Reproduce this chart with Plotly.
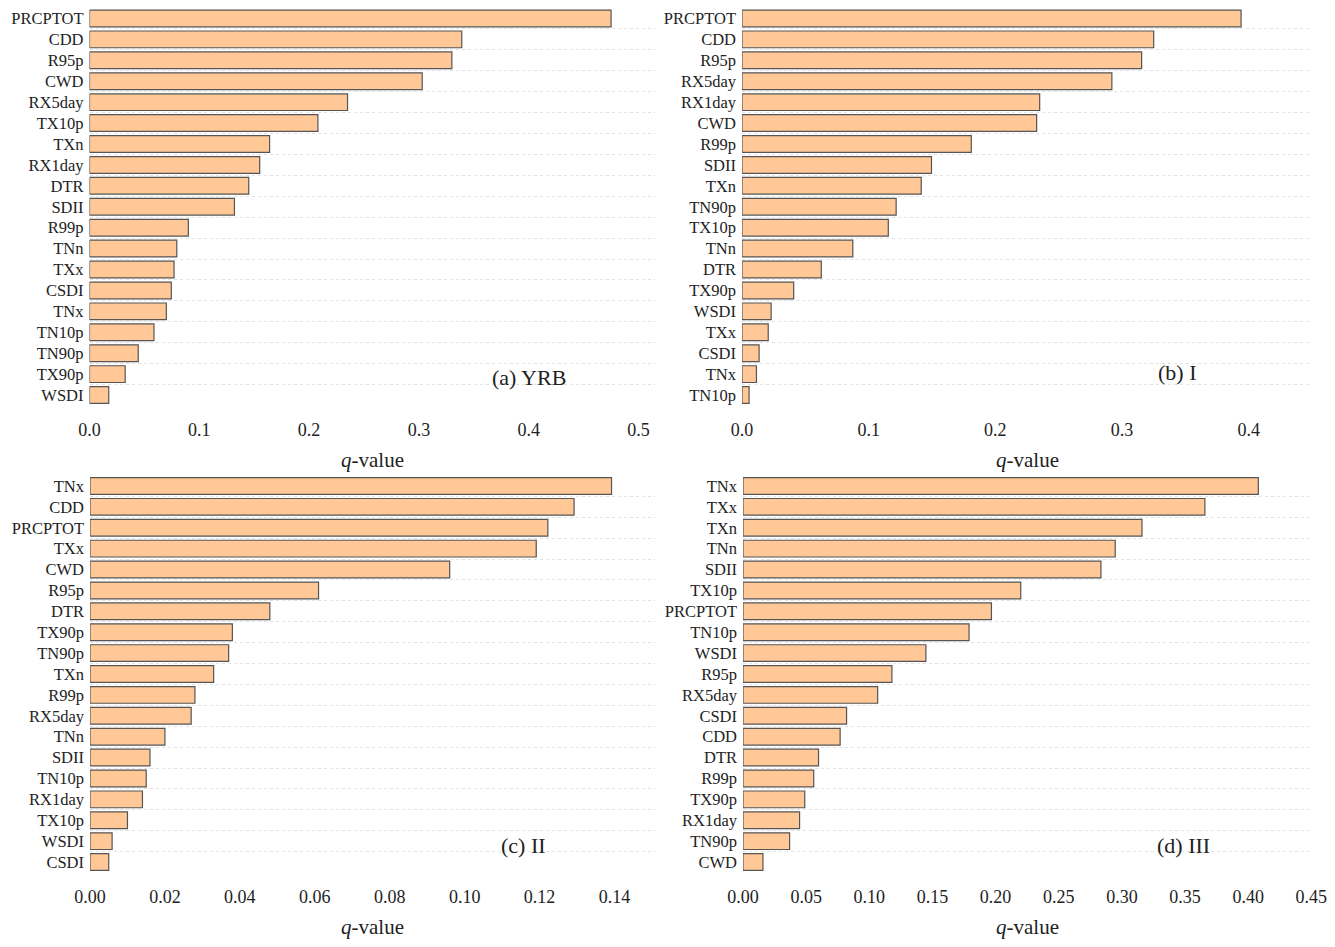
import plotly.graph_objects as go

# q-values (top bar first)
yrb_labels = ["PRCPTOT", "CDD", "R95p", "CWD", "RX5day", "TX10p", "TXn", "RX1day", "DTR", "SDII",
              "R99p", "TNn", "TXx", "CSDI", "TNx", "TN10p", "TN90p", "TX90p", "WSDI"]
yrb_values = [0.475, 0.339, 0.330, 0.303, 0.235, 0.208, 0.164, 0.155, 0.145, 0.132,
              0.090, 0.0795, 0.077, 0.0745, 0.070, 0.0587, 0.0444, 0.0325, 0.0175]

r1_labels = ["PRCPTOT", "CDD", "R95p", "RX5day", "RX1day", "CWD", "R99p", "SDII", "TXn", "TN90p",
             "TX10p", "TNn", "DTR", "TX90p", "WSDI", "TXx", "CSDI", "TNx", "TN10p"]
r1_values = [0.394, 0.325, 0.3155, 0.292, 0.235, 0.2326, 0.181, 0.1496, 0.1415, 0.1217,
             0.1155, 0.0875, 0.0626, 0.0408, 0.023, 0.0207, 0.0135, 0.0114, 0.0056]

r2_labels = ["TNx", "CDD", "PRCPTOT", "TXx", "CWD", "R95p", "DTR", "TX90p", "TN90p", "TXn",
             "R99p", "RX5day", "TNn", "SDII", "TN10p", "RX1day", "TX10p", "WSDI", "CSDI"]
r2_values = [0.1392, 0.1292, 0.1222, 0.1191, 0.096, 0.061, 0.048, 0.038, 0.037, 0.033,
             0.028, 0.027, 0.020, 0.016, 0.015, 0.014, 0.010, 0.0059, 0.005]

r3_labels = ["TNx", "TXx", "TXn", "TNn", "SDII", "TX10p", "PRCPTOT", "TN10p", "WSDI", "R95p",
             "RX5day", "CSDI", "CDD", "DTR", "R99p", "TX90p", "RX1day", "TN90p", "CWD"]
r3_values = [0.408, 0.3657, 0.3159, 0.2947, 0.2834, 0.2199, 0.1967, 0.179, 0.1448, 0.1179,
             0.1066, 0.082, 0.0769, 0.0598, 0.056, 0.0489, 0.0448, 0.0369, 0.0158]

panels = [
    (yrb_labels, yrb_values, "(a) YRB", [0, 0.515], [0, 0.1, 0.2, 0.3, 0.4, 0.5], ".1f"),
    (r1_labels, r1_values, "(b) I", [0, 0.45], [0, 0.1, 0.2, 0.3, 0.4], ".1f"),
    (r2_labels, r2_values, "(c) II", [0, 0.1508], [0, 0.02, 0.04, 0.06, 0.08, 0.10, 0.12, 0.14], ".2f"),
    (r3_labels, r3_values, "(d) III", [0, 0.4505], [0, 0.05, 0.1, 0.15, 0.2, 0.25, 0.3, 0.35, 0.4, 0.45], ".2f"),
]

# page body adds 8px margin, so the figure is a bit smaller than the window
W, H = 1319, 931
xdoms = [[81.5 / W, 647 / W], [734 / W, 1304 / W], [82 / W, 647 / W], [735 / W, 1304 / W]]
ydoms = [[1 - 397.5 / H, 1.0], [1 - 397.5 / H, 1.0],
         [1 - 864.5 / H, 1 - 467.5 / H], [1 - 864.5 / H, 1 - 467.5 / H]]
label_pos = [(560, 369), (1190, 364), (540, 837), (1204, 837)]
title_y = [452, 452, 919, 919]

FONT = "Liberation Serif, Times New Roman, serif"

fig = go.Figure()
annotations = []
for i, (labels, values, tag, xr, tv, fmt) in enumerate(panels):
    n = i + 1
    xa = "x" if n == 1 else f"x{n}"
    ya = "y" if n == 1 else f"y{n}"
    fig.add_trace(go.Bar(
        x=values, y=labels, orientation="h", xaxis=xa, yaxis=ya,
        marker=dict(color="#FFC896", line=dict(color="#555555", width=1.2)),
        showlegend=False,
    ))
    xkey = "xaxis" if n == 1 else f"xaxis{n}"
    ykey = "yaxis" if n == 1 else f"yaxis{n}"
    fig.update_layout(**{
        xkey: dict(domain=xdoms[i], range=xr, anchor=ya, tickvals=tv, tickformat=fmt,
                   showgrid=False, zeroline=False, showline=False, ticks="",
                   ticklabelstandoff=11, ticklabeloverflow="allow",
                   tickfont=dict(size=18, color="#222"),
                   automargin=False, fixedrange=True),
        ykey: dict(domain=ydoms[i], anchor=xa, type="category", autorange="reversed",
                   tickson="boundaries", showgrid=True, gridcolor="#e2e2e2", griddash="dot",
                   gridwidth=1, zeroline=False, showline=False, ticks="",
                   ticklabelstandoff=5, tickfont=dict(size=16.5, color="#222"),
                   automargin=False, fixedrange=True),
    })
    lx, ly = label_pos[i]
    annotations.append(dict(x=lx / W, y=1 - ly / H, xref="paper", yref="paper",
                            text=tag, showarrow=False, xanchor="right", yanchor="middle",
                            font=dict(size=22, family=FONT, color="#222")))
    cx = (xdoms[i][0] + xdoms[i][1]) / 2
    annotations.append(dict(x=cx, y=1 - title_y[i] / H, xref="paper", yref="paper",
                            text="<i>q</i>-value", showarrow=False, xanchor="center",
                            yanchor="middle", font=dict(size=21, family=FONT, color="#222")))

fig.update_layout(
    width=W, height=H,
    margin=dict(l=0, r=0, t=0, b=0),
    paper_bgcolor="white", plot_bgcolor="white",
    font=dict(family=FONT, color="#222"),
    bargap=0.2,
    annotations=annotations,
)

fig.write_html("out.html")
